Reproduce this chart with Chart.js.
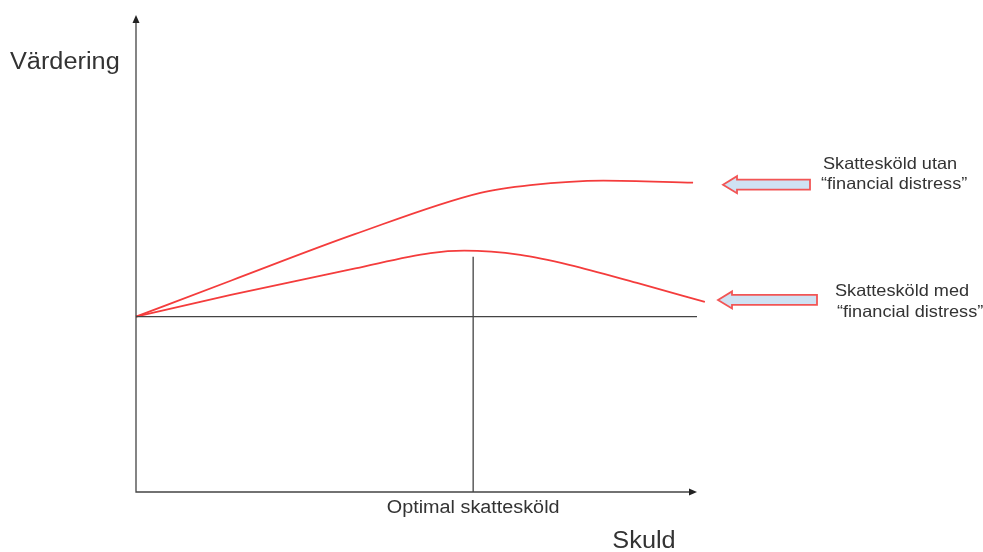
<!DOCTYPE html>
<html lang="sv">
<head>
    <meta charset="UTF-8">
    <title>Skattesköld</title>
    <script src="https://cdn.jsdelivr.net/npm/chart.js"></script>
    <style>
        body { margin: 0; background: #fff; }
        canvas { display: block; }
    </style>
</head>
<body>
    <canvas id="grafico" width="983" height="552"></canvas>

<script>
    // data (skuld på x, värdering på y, baslinjen = 0)
    var skuldUtan = [0, 17, 39, 61.4, 70.3, 83.3, 99.3];
    var varderingUtan = [0, 10.3, 23.5, 35.3, 37.5, 38.8, 38.2];

    var skuldMed = [0, 16.9, 39.1, 52.5, 58.5, 68.5, 77.4, 89.3, 101.4];
    var varderingMed = [0, 6.2, 13.75, 18.1, 18.8, 17.6, 14.7, 9.6, 4.2];

    var baslinjeSkuld = [0, 100];
    var baslinjeVardering = [0, 0];

    var optimalSkuld = [60.1, 60.1];
    var optimalVardering = [17.1, -50];

    var skuldMin = 0, skuldMax = 100;
    var varderingMin = -50, varderingMax = 86;

    var etiketter = {
        y: 'Värdering',
        x: 'Skuld',
        optimal: 'Optimal skattesköld',
        utan: ['Skattesköld utan', '“financial distress”'],
        med: ['Skattesköld med', '“financial distress”']
    };

    function punkter(xs, ys) {
        var p = [];
        for (var i = 0; i < xs.length; i++) {
            p.push({ x: xs[i], y: ys[i] });
        }
        return p;
    }

    var FONT = '"Liberation Sans", Arial, sans-serif';
    var STRETCH = 1.1;

    function text(ctx, str, x, y, size, align) {
        ctx.save();
        ctx.font = size + 'px ' + FONT;
        ctx.fillStyle = '#333';
        ctx.textBaseline = 'middle';
        var w = ctx.measureText(str).width * STRETCH;
        var x0 = x;
        if (align == 'center') x0 = x - w / 2;
        ctx.translate(x0, y);
        ctx.scale(STRETCH, 1);
        ctx.textAlign = 'left';
        ctx.fillText(str, 0, 0);
        ctx.restore();
    }

    function blockpil(ctx, tipX, cy, len) {
        var head = 14, halfHead = 8.5, halfShaft = 5;
        ctx.save();
        ctx.beginPath();
        ctx.moveTo(tipX, cy);
        ctx.lineTo(tipX + head, cy - halfHead);
        ctx.lineTo(tipX + head, cy - halfShaft);
        ctx.lineTo(tipX + len, cy - halfShaft);
        ctx.lineTo(tipX + len, cy + halfShaft);
        ctx.lineTo(tipX + head, cy + halfShaft);
        ctx.lineTo(tipX + head, cy + halfHead);
        ctx.closePath();
        ctx.fillStyle = '#cfe2f3';
        ctx.fill();
        ctx.lineWidth = 1.8;
        ctx.strokeStyle = '#f25555';
        ctx.stroke();
        ctx.restore();
    }

    var axlar = {
        id: 'axlar',
        afterDraw: function (chart) {
            var ctx = chart.ctx;
            var a = chart.chartArea;
            var sx = chart.scales.x, sy = chart.scales.y;

            // axlar
            ctx.save();
            ctx.strokeStyle = '#444';
            ctx.lineWidth = 1.3;
            ctx.beginPath();
            ctx.moveTo(a.left, a.top + 4);
            ctx.lineTo(a.left, a.bottom);
            ctx.lineTo(a.right - 4, a.bottom);
            ctx.stroke();

            ctx.fillStyle = '#222';
            ctx.beginPath();
            ctx.moveTo(a.left, a.top);
            ctx.lineTo(a.left - 3.5, a.top + 8);
            ctx.lineTo(a.left + 3.5, a.top + 8);
            ctx.closePath();
            ctx.fill();

            ctx.beginPath();
            ctx.moveTo(a.right, a.bottom);
            ctx.lineTo(a.right - 8, a.bottom - 3.5);
            ctx.lineTo(a.right - 8, a.bottom + 3.5);
            ctx.closePath();
            ctx.fill();
            ctx.restore();

            // rubriker
            text(ctx, etiketter.y, 10, 63, 23, 'left');
            text(ctx, etiketter.x, 644, 542, 23, 'center');
            text(ctx, etiketter.optimal, sx.getPixelForValue(optimalSkuld[0]), a.bottom + 16, 18, 'center');

            // pilar med förklaringar
            var yUtan = sy.getPixelForValue(varderingUtan[varderingUtan.length - 1]) + 2;
            var yMed = sy.getPixelForValue(varderingMed[varderingMed.length - 1]) - 2;

            blockpil(ctx, a.right + 26, yUtan, 87);
            text(ctx, etiketter.utan[0], a.right + 126, yUtan - 20, 16.5, 'left');
            text(ctx, etiketter.utan[1], a.right + 124, yUtan, 16.5, 'left');

            blockpil(ctx, a.right + 21, yMed, 99);
            text(ctx, etiketter.med[0], a.right + 138, yMed - 8, 16.5, 'left');
            text(ctx, etiketter.med[1], a.right + 140, yMed + 13, 16.5, 'left');
        }
    };

    var config = {
        type: 'line',
        data: {
            datasets: [
                {
                    label: 'Baslinje',
                    data: punkter(baslinjeSkuld, baslinjeVardering),
                    borderColor: '#444',
                    borderWidth: 1.3,
                    pointRadius: 0,
                    tension: 0
                },
                {
                    label: 'Optimal skattesköld',
                    data: punkter(optimalSkuld, optimalVardering),
                    borderColor: '#444',
                    borderWidth: 1.3,
                    pointRadius: 0,
                    tension: 0
                },
                {
                    label: etiketter.utan.join(' '),
                    data: punkter(skuldUtan, varderingUtan),
                    borderColor: '#f43c3c',
                    borderWidth: 1.8,
                    pointRadius: 0,
                    cubicInterpolationMode: 'monotone',
                    clip: false
                },
                {
                    label: etiketter.med.join(' '),
                    data: punkter(skuldMed, varderingMed),
                    borderColor: '#f43c3c',
                    borderWidth: 1.8,
                    pointRadius: 0,
                    cubicInterpolationMode: 'monotone',
                    clip: false
                }
            ]
        },
        options: {
            responsive: false,
            animation: false,
            layout: {
                padding: { left: 136, right: 286, top: 15, bottom: 60 }
            },
            plugins: {
                legend: { display: false },
                tooltip: { enabled: false }
            },
            scales: {
                x: { type: 'linear', min: skuldMin, max: skuldMax, display: false },
                y: { type: 'linear', min: varderingMin, max: varderingMax, display: false }
            }
        },
        plugins: [axlar]
    };

    var myChart = new Chart(document.getElementById('grafico'), config);
</script>
</body>
</html>
